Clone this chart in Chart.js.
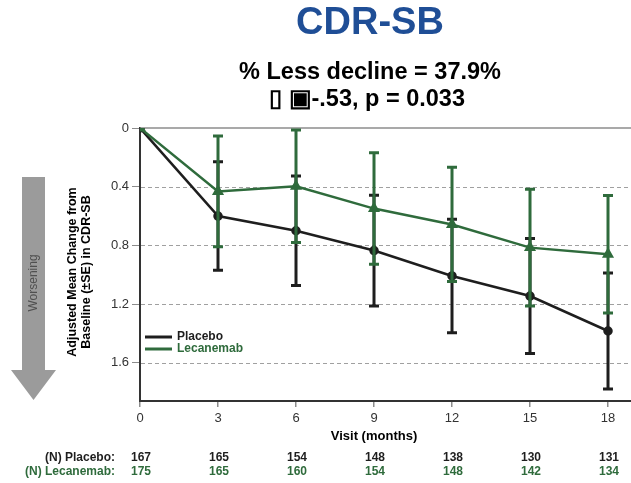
<!DOCTYPE html>
<html>
<head>
<meta charset="utf-8">
<script src="https://cdn.jsdelivr.net/npm/chart.js@4.4.1/dist/chart.umd.min.js"></script>
<style>
  html, body { margin: 0; padding: 0; background: #ffffff; }
  #cdrChart { display: block; }
</style>
</head>
<body>
<canvas id="cdrChart" width="631" height="483"></canvas>
<script>
// Visits and adjusted mean change (with SE) per arm
const months = [0, 3, 6, 9, 12, 15, 18];
const placeboMean = [0, 0.60, 0.70, 0.835, 1.008, 1.145, 1.383];
const placeboSE = [0, 0.37, 0.373, 0.377, 0.387, 0.392, 0.395];
const lecanemabMean = [0, 0.432, 0.397, 0.549, 0.657, 0.815, 0.86];
const lecanemabSE = [0, 0.377, 0.383, 0.38, 0.389, 0.397, 0.40];
const nPlacebo = [167, 165, 154, 148, 138, 130, 131];
const nLecanemab = [175, 165, 160, 154, 148, 142, 134];
const yTicks = [0, 0.4, 0.8, 1.2, 1.6];

const FONT = "'Liberation Sans', Arial, sans-serif";
const BLACK = "#1e1e1e";
const GREEN = "#2f6b3c";

function toPoints(means) {
  return months.map((m, i) => ({ x: m, y: means[i] }));
}

// Error bars, dashed grid, legend and the surrounding labels
const extrasPlugin = {
  id: "extras",
  beforeDatasetsDraw(chart) {
    const ctx = chart.ctx;
    const area = chart.chartArea;
    const y = chart.scales.y;
    ctx.save();
    // solid line at zero
    ctx.strokeStyle = "#8c8c8c";
    ctx.lineWidth = 1.5;
    ctx.beginPath();
    ctx.moveTo(area.left, y.getPixelForValue(0));
    ctx.lineTo(chart.width, y.getPixelForValue(0));
    ctx.stroke();
    // x axis runs on to the right edge
    ctx.strokeStyle = "#333333";
    ctx.lineWidth = 2;
    ctx.beginPath();
    ctx.moveTo(area.right - 1, area.bottom);
    ctx.lineTo(chart.width, area.bottom);
    ctx.stroke();
    // dashed reference lines
    ctx.strokeStyle = "#a0a0a0";
    ctx.lineWidth = 1;
    ctx.setLineDash([4, 3]);
    yTicks.slice(1).forEach(v => {
      const py = Math.round(y.getPixelForValue(v)) + 0.5;
      ctx.beginPath();
      ctx.moveTo(area.left + 1, py);
      ctx.lineTo(chart.width, py);
      ctx.stroke();
    });
    ctx.restore();
  },
  beforeDatasetDraw(chart, args) {
    const ctx = chart.ctx;
    const xs = chart.scales.x;
    const ys = chart.scales.y;
    const means = args.index === 0 ? placeboMean : lecanemabMean;
    const se = args.index === 0 ? placeboSE : lecanemabSE;
    const color = args.index === 0 ? BLACK : GREEN;
    ctx.save();
    ctx.strokeStyle = color;
    ctx.lineWidth = 3;
    months.forEach((m, i) => {
      if (!se[i]) return;
      const px = xs.getPixelForValue(m);
      const top = ys.getPixelForValue(means[i] - se[i]);
      const bot = ys.getPixelForValue(means[i] + se[i]);
      ctx.beginPath();
      ctx.moveTo(px, top);
      ctx.lineTo(px, bot);
      ctx.moveTo(px - 5, top);
      ctx.lineTo(px + 5, top);
      ctx.moveTo(px - 5, bot);
      ctx.lineTo(px + 5, bot);
      ctx.stroke();
    });
    ctx.restore();
  },
  afterDraw(chart) {
    const ctx = chart.ctx;
    const xs = chart.scales.x;
    ctx.save();

    // headings
    ctx.textAlign = "center";
    ctx.textBaseline = "middle";
    ctx.fillStyle = "#1f4e96";
    ctx.font = "bold 38px " + FONT;
    ctx.fillText("CDR-SB", 370, 24);
    ctx.fillStyle = "#000000";
    ctx.font = "bold 23.5px " + FONT;
    ctx.fillText("% Less decline = 37.9%", 370, 73);
    ctx.fillText("\u25AF \u25A3-.53, p = 0.033", 367, 100);

    // worsening arrow
    ctx.fillStyle = "#9b9b9b";
    ctx.beginPath();
    ctx.moveTo(22, 177);
    ctx.lineTo(45, 177);
    ctx.lineTo(45, 370);
    ctx.lineTo(56, 370);
    ctx.lineTo(33.5, 400);
    ctx.lineTo(11, 370);
    ctx.lineTo(22, 370);
    ctx.closePath();
    ctx.fill();

    // rotated texts
    ctx.save();
    ctx.translate(34, 283);
    ctx.rotate(-Math.PI / 2);
    ctx.fillStyle = "#505050";
    ctx.font = "12px " + FONT;
    ctx.fillText("Worsening", 0, 0);
    ctx.restore();

    ctx.save();
    ctx.translate(80, 272);
    ctx.rotate(-Math.PI / 2);
    ctx.fillStyle = "#000000";
    ctx.font = "bold 12.5px " + FONT;
    ctx.fillText("Adjusted Mean Change from", 0, -7);
    ctx.fillText("Baseline (\u00B1SE) in CDR-SB", 0, 7);
    ctx.restore();

    // x axis title
    ctx.fillStyle = "#000000";
    ctx.font = "bold 13px " + FONT;
    ctx.fillText("Visit (months)", 374, 436);

    // legend
    ctx.lineWidth = 3;
    [["Placebo", BLACK, 337], ["Lecanemab", GREEN, 349]].forEach(([label, color, ly]) => {
      ctx.strokeStyle = color;
      ctx.beginPath();
      ctx.moveTo(145, ly);
      ctx.lineTo(172, ly);
      ctx.stroke();
      ctx.fillStyle = color;
      ctx.textAlign = "left";
      ctx.font = "bold 12px " + FONT;
      ctx.fillText(label, 177, ly);
    });

    // numbers at risk
    ctx.font = "bold 12px " + FONT;
    ctx.textAlign = "right";
    ctx.fillStyle = BLACK;
    ctx.fillText("(N) Placebo:", 115, 458);
    ctx.fillStyle = GREEN;
    ctx.fillText("(N) Lecanemab:", 115, 472);
    ctx.textAlign = "center";
    months.forEach((m, i) => {
      const px = xs.getPixelForValue(m) + 1;
      ctx.fillStyle = BLACK;
      ctx.fillText(String(nPlacebo[i]), px, 458);
      ctx.fillStyle = GREEN;
      ctx.fillText(String(nLecanemab[i]), px, 472);
    });
    ctx.restore();
  }
};

const ctx = document.getElementById("cdrChart").getContext("2d");
new Chart(ctx, {
  type: "line",
  data: {
    datasets: [
      {
        label: "Placebo",
        data: toPoints(placeboMean),
        borderColor: BLACK,
        backgroundColor: BLACK,
        borderWidth: 2.5,
        pointStyle: "circle",
        pointRadius: 3.5,
        order: 1
      },
      {
        label: "Lecanemab",
        data: toPoints(lecanemabMean),
        borderColor: GREEN,
        backgroundColor: GREEN,
        borderWidth: 2.5,
        pointStyle: "triangle",
        pointRadius: 4.5,
        order: 0
      }
    ]
  },
  options: {
    responsive: false,
    devicePixelRatio: 1,
    animation: false,
    layout: { padding: { top: 128, left: 0, right: 0, bottom: 0 } },
    plugins: {
      legend: { display: false },
      tooltip: { enabled: false }
    },
    scales: {
      x: {
        type: "linear",
        min: 0,
        max: 18.615,
        afterFit: s => { s.height = 82; },
        ticks: {
          stepSize: 3,
          includeBounds: false,
          color: "#333333",
          font: { family: FONT, size: 13 },
          padding: 4
        },
        grid: { drawOnChartArea: false, tickLength: 6, color: "#8c8c8c", lineWidth: 1.5 },
        border: { display: true, color: "#333333", width: 2 }
      },
      y: {
        type: "linear",
        reverse: true,
        min: 0,
        max: 1.86,
        afterFit: s => { s.width = 140; },
        ticks: {
          stepSize: 0.4,
          includeBounds: false,
          color: "#333333",
          font: { family: FONT, size: 13 },
          padding: 3,
          callback: v => (v === 0 ? "0" : v.toFixed(1))
        },
        grid: { drawOnChartArea: false, tickLength: 8, color: "#8c8c8c", lineWidth: 1 },
        border: { display: true, color: "#333333", width: 2 }
      }
    }
  },
  plugins: [extrasPlugin]
});
</script>
</body>
</html>
